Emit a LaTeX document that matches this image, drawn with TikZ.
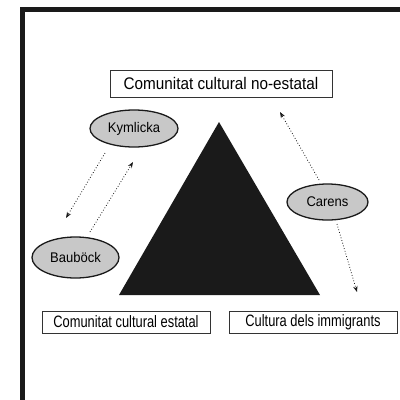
\documentclass[tikz,border=0pt]{standalone}
\usepackage{fontspec}
\setmainfont{Liberation Sans}
\newfontfamily\topfont[FakeStretch=0.91]{Liberation Sans}
\newfontfamily\basefont[FakeStretch=0.78]{Liberation Sans}
\newfontfamily\ovalfont[FakeStretch=0.93]{Liberation Sans}
\usetikzlibrary{shapes.geometric,arrows.meta}
\definecolor{ovalgray}{HTML}{C8C8C8}
\definecolor{inkblack}{HTML}{1A1A1A}
\definecolor{boxline}{HTML}{333333}
\begin{document}
\begin{tikzpicture}[x=1pt,y=-1pt,
  labelbox/.style={draw=boxline,line width=0.9pt,rectangle,inner sep=0pt},
  oval/.style={draw=inkblack,fill=ovalgray,ellipse,line width=1.3pt,inner sep=0pt,font=\ovalfont\fontsize{14}{16}\selectfont},
  dotarrow/.style={draw=inkblack,line width=0.8pt,dotted,-{Stealth[length=6pt,width=4.5pt]}}]
\useasboundingbox (0,0) rectangle (400,400);
\begin{scope}
\clip (0,0) rectangle (400,400);
\draw[line width=4.5pt,draw=inkblack] (22.5,9.5) rectangle (430,430);
\end{scope}
\fill[inkblack] (219,122) -- (320,295) -- (119,295) -- cycle;
\node[labelbox,minimum width=222pt,minimum height=27pt,font=\topfont\fontsize{16.8}{19}\selectfont] (top) at (221,83.5) {Comunitat cultural no-estatal};
\node[labelbox,minimum width=168pt,minimum height=22pt,font=\basefont\fontsize{16.5}{19}\selectfont] (bl) at (126,322) {Comunitat cultural estatal};
\node[labelbox,minimum width=168pt,minimum height=22pt,font=\basefont\fontsize{16.5}{19}\selectfont] (br) at (313,322) {Cultura dels immigrants};
\node[oval,minimum width=88pt,minimum height=37pt] (kym) at (134,128.5) {Kymlicka};
\node[oval,minimum width=87pt,minimum height=41pt] (bau) at (75.5,257.5) {Bauböck};
\node[oval,minimum width=81pt,minimum height=36pt] (car) at (327.5,202) {Carens};
\coordinate (k1) at (105,153);
\coordinate (k2) at (66,218);
\coordinate (b1) at (90,232);
\coordinate (b2) at (133,162);
\coordinate (c1) at (319,180);
\coordinate (c2) at (280,112);
\coordinate (c3) at (337,224);
\coordinate (c4) at (357,292);
\draw[dotarrow] (k1) -- (k2);
\draw[dotarrow] (b1) -- (b2);
\draw[dotarrow] (c1) -- (c2);
\draw[dotarrow] (c3) -- (c4);
\end{tikzpicture}
\end{document}
